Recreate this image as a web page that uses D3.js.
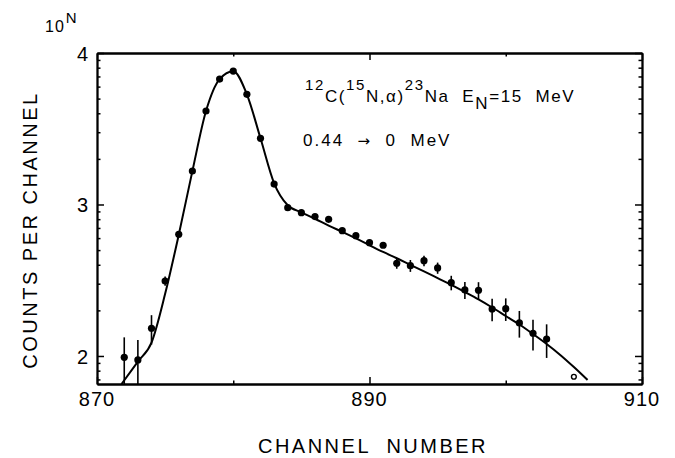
<!DOCTYPE html>
<html>
<head>
<meta charset="utf-8">
<script src="https://cdn.jsdelivr.net/npm/d3@7"></script>
<style>
  body { margin: 0; background: #fff; }
  svg text { font-family: "Liberation Sans", Arial, sans-serif; fill: #000; white-space: pre; }
</style>
</head>
<body>
<div id="chart"></div>
<script>
// measured points: channel, log10(counts), relative error
var channels = [872, 873, 874, 875, 876, 877, 878, 879, 880, 881, 882, 883, 884, 885, 886, 887,
    888, 889, 890, 891, 892, 893, 894, 895, 896, 897, 898, 899, 900, 901, 902, 903];
var logCounts = [1.991, 1.974, 2.183, 2.495, 2.803, 3.221, 3.617, 3.828, 3.881, 3.727, 3.437, 3.135, 2.979, 2.946, 2.920, 2.902,
    2.827, 2.794, 2.748, 2.731, 2.612, 2.596, 2.629, 2.581, 2.484, 2.436, 2.434, 2.310, 2.312, 2.218, 2.150, 2.112];
var relErr = [0.355, 0.355, 0.22, 0.07, 0.03, 0.02, 0.015, 0.01, 0.01, 0.01, 0.015, 0.02, 0.03, 0.03, 0.03, 0.03,
    0.035, 0.035, 0.04, 0.04, 0.08, 0.09, 0.08, 0.085, 0.11, 0.13, 0.13, 0.17, 0.17, 0.2, 0.23, 0.25];

// open circle
var openChannels = [905];
var openLogCounts = [1.863];

// fitted curve
var fitChannels = [871.8, 873, 874, 875, 876, 877, 878, 879, 880, 881, 882, 883, 884, 885, 886, 887, 888,
    889, 890, 891, 892, 893, 894, 895, 896, 897, 898, 899, 900, 901, 902, 903, 904, 905, 906];
var fitLogCounts = [1.815, 1.963, 2.088, 2.41, 2.80, 3.22, 3.617, 3.828, 3.88, 3.727, 3.437, 3.14, 2.995, 2.948, 2.906, 2.861, 2.819,
    2.776, 2.731, 2.687, 2.645, 2.601, 2.558, 2.514, 2.470, 2.422, 2.373, 2.320, 2.264, 2.208, 2.145, 2.079, 2.007, 1.927, 1.842];

var xMajorTicks = [870, 890, 910];
var xMinorTicks = [880, 900];
var yMajorTicks = [2, 3, 4];

var width = 675, height = 458,
    margin = {left: 97, right: 33, top: 53, bottom: 74};

var svg = d3.select("#chart").append("svg")
    .attr("width", width)
    .attr("height", height);

var x = d3.scaleLinear().domain([870, 910]).range([margin.left, width - margin.right]);
var y = d3.scaleLinear().domain([1.815, 4]).range([height - margin.bottom, margin.top]);

// log minor ticks between decades
var yMinorTicks = [];
[1, 2, 3].forEach(function (d) {
    for (var k = 2; k <= 9; k++) {
        var v = d + Math.log10(k);
        if (v > y.domain()[0] && v < y.domain()[1]) yMinorTicks.push(v);
    }
});

svg.append("defs").append("clipPath").attr("id", "plotclip")
    .append("rect")
    .attr("x", x.range()[0]).attr("y", y.range()[1])
    .attr("width", x.range()[1] - x.range()[0])
    .attr("height", y.range()[0] - y.range()[1]);

// axes, ticks inward on all four sides
var majorLen = 7, minorLen = 3.5;
var axBottom = d3.axisTop(x).tickValues(xMajorTicks).tickSize(majorLen),
    axBottomMinor = d3.axisTop(x).tickValues(xMinorTicks).tickSize(minorLen),
    axTop = d3.axisBottom(x).tickValues(xMajorTicks).tickSize(majorLen),
    axTopMinor = d3.axisBottom(x).tickValues(xMinorTicks).tickSize(minorLen),
    axLeft = d3.axisRight(y).tickValues(yMajorTicks).tickSize(majorLen),
    axLeftMinor = d3.axisRight(y).tickValues(yMinorTicks).tickSize(minorLen),
    axRight = d3.axisLeft(y).tickValues(yMajorTicks).tickSize(majorLen),
    axRightMinor = d3.axisLeft(y).tickValues(yMinorTicks).tickSize(minorLen);

function addAxis(ax, tx, ty) {
    var g = svg.append("g")
        .attr("transform", "translate(" + tx + "," + ty + ")")
        .call(ax.tickSizeOuter(0).tickFormat(""));
    g.select(".domain").attr("stroke-width", 1.8);
    g.selectAll(".tick line").attr("stroke-width", 1.5);
    return g;
}
addAxis(axBottom, 0, y.range()[0]);
addAxis(axBottomMinor, 0, y.range()[0]);
addAxis(axTop, 0, y.range()[1]);
addAxis(axTopMinor, 0, y.range()[1]);
addAxis(axLeft, x.range()[0], 0);
addAxis(axLeftMinor, x.range()[0], 0);
addAxis(axRight, x.range()[1], 0);
addAxis(axRightMinor, x.range()[1], 0);

// tick labels
svg.append("g").selectAll("text").data(xMajorTicks).enter().append("text")
    .attr("x", function (d) { return x(d); })
    .attr("y", y.range()[0] + 22)
    .attr("text-anchor", "middle")
    .attr("font-size", 20)
    .attr("letter-spacing", 1)
    .text(function (d) { return d; });

svg.append("g").selectAll("text").data(yMajorTicks).enter().append("text")
    .attr("x", x.range()[0] - 9)
    .attr("y", function (d) { return y(d) + 8; })
    .attr("text-anchor", "end")
    .attr("font-size", 20)
    .text(function (d) { return d; });

// axis titles
svg.append("text")
    .attr("x", 373).attr("y", 453)
    .attr("text-anchor", "middle")
    .attr("font-size", 20)
    .attr("letter-spacing", 2.5)
    .text("CHANNEL  NUMBER");

svg.append("text")
    .attr("transform", "translate(37,230) rotate(-90)")
    .attr("text-anchor", "middle")
    .attr("font-size", 20)
    .attr("letter-spacing", 2.5)
    .text("COUNTS PER CHANNEL");

var tenN = svg.append("text").attr("x", 45).attr("y", 32).attr("font-size", 16).attr("letter-spacing", 1);
tenN.append("tspan").text("10");
tenN.append("tspan").attr("dy", -9).attr("dx", 1).attr("font-size", 15).text("N");

// reaction label with super/subscripts
var parts = [
    {t: "12", s: -12, f: 15}, {t: "C(", s: 0, f: 17}, {t: "15", s: -12, f: 15}, {t: "N,α)", s: 0, f: 17},
    {t: "23", s: -12, f: 15}, {t: "Na  E", s: 0, f: 17}, {t: "N", s: 7, f: 17}, {t: "=15  MeV", s: 0, f: 17}
];
var label = svg.append("text").attr("x", 305).attr("y", 102).attr("letter-spacing", 1.6);
var prev = 0;
parts.forEach(function (p) {
    label.append("tspan")
        .attr("dy", p.s - prev)
        .attr("font-size", p.f)
        .text(p.t);
    prev = p.s;
});

var trans = svg.append("text")
    .attr("x", 303).attr("y", 146)
    .attr("font-size", 17)
    .attr("letter-spacing", 2);
trans.append("tspan").text("0.44  ");
trans.append("tspan").attr("font-family", "DejaVu Sans").attr("font-size", 15).text("→");
trans.append("tspan").text("  0  MeV");

var plot = svg.append("g").attr("clip-path", "url(#plotclip)");

// fitted curve
var fit = fitChannels.map(function (c, i) { return {c: c, v: fitLogCounts[i]}; });
plot.append("path")
    .datum(fit)
    .attr("fill", "none")
    .attr("stroke", "#000")
    .attr("stroke-width", 2)
    .attr("d", d3.line()
        .x(function (d) { return x(d.c); })
        .y(function (d) { return y(d.v); })
        .curve(d3.curveMonotoneX));

var pts = channels.map(function (c, i) { return {c: c, v: logCounts[i], e: relErr[i]}; });

// error bars
plot.append("g").selectAll("line").data(pts).enter().append("line")
    .attr("x1", function (d) { return x(d.c); })
    .attr("x2", function (d) { return x(d.c); })
    .attr("y1", function (d) { return y(d.v + Math.log10(1 + d.e)); })
    .attr("y2", function (d) { return y(d.v + Math.log10(1 - d.e)); })
    .attr("stroke", "#000")
    .attr("stroke-width", 1.6);

plot.append("g").selectAll("circle").data(pts).enter().append("circle")
    .attr("cx", function (d) { return x(d.c); })
    .attr("cy", function (d) { return y(d.v); })
    .attr("r", 3.6)
    .attr("fill", "#000");

plot.append("g").selectAll("circle").data(openChannels).enter().append("circle")
    .attr("cx", function (d) { return x(d); })
    .attr("cy", function (d, i) { return y(openLogCounts[i]); })
    .attr("r", 2.4)
    .attr("fill", "#fff")
    .attr("stroke", "#000")
    .attr("stroke-width", 1.4);
</script>
</body>
</html>
